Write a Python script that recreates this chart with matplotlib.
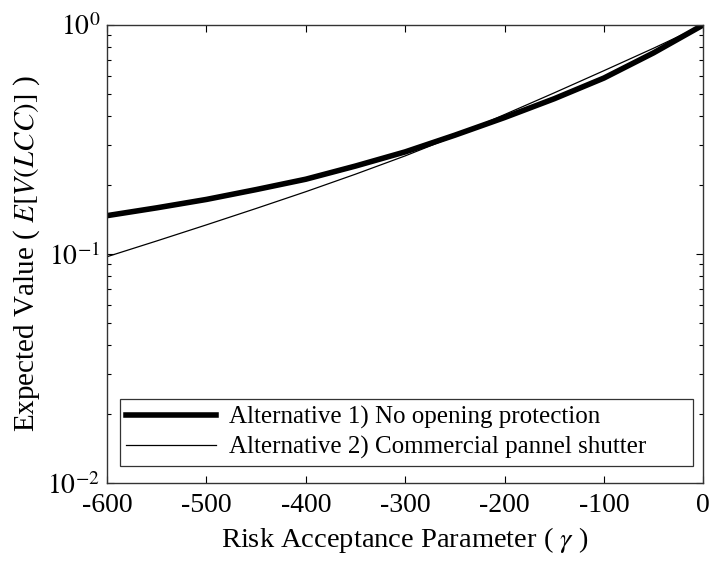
import numpy as np
import matplotlib
matplotlib.use("Agg")
import matplotlib.pyplot as plt

plt.rcParams['font.family'] = ['Liberation Serif', 'DejaVu Serif']
plt.rcParams['mathtext.fontset'] = 'stix'

# risk acceptance parameter (gamma)
gamma = [-600, -550, -500, -450, -400, -350, -300, -250, -200, -150, -100, -50, 0]
# expected value E[V(LCC)]
alt1 = [0.147, 0.159, 0.173, 0.191, 0.212, 0.242, 0.279, 0.330, 0.394, 0.476, 0.586, 0.755, 1.0]
alt2 = [0.0973, 0.114, 0.134, 0.158, 0.187, 0.223, 0.268, 0.327, 0.406, 0.505, 0.631, 0.791, 1.0]
labels = ['Alternative 1) No opening protection',
          'Alternative 2) Commercial pannel shutter']
yticks = [1e-2, 1e-1, 1e0]
yticklabels = [r'$10^{-2}$', r'$10^{-1}$', r'$10^{0}$']

fig = plt.figure(figsize=(7.14, 5.65), dpi=100)
ax = fig.add_axes([0.150, 0.145, 0.835, 0.811])

ax.plot(gamma, alt1, color='black', lw=4.0, label=labels[0])
ax.plot(gamma, alt2, color='black', lw=0.9, label=labels[1])

ax.set_yscale('log')
ax.set_xlim(-600, 0)
ax.set_ylim(1e-2, 1e0)
ax.set_xticks(np.arange(-600, 1, 100))
ax.set_xticklabels([str(v) for v in range(-600, 1, 100)])
ax.set_yticks(yticks)
ax.set_yticklabels(yticklabels, fontsize=21)

ax.tick_params(which='both', direction='in', top=True, right=True, labelsize=20)
ax.tick_params(which='major', length=5, width=0.8)
ax.tick_params(which='minor', length=3, width=0.8)
ax.tick_params(axis='x', pad=7)
ax.tick_params(axis='y', pad=5)
for s in ax.spines.values():
    s.set_linewidth(1.0)
    s.set_color('#333333')

ax.set_xlabel(r'Risk Acceptance Parameter ( $\gamma$ )', fontsize=20.5, labelpad=5)
ax.set_ylabel(r'Expected Value ( $\mathit{E[V(LCC)]}$ )', fontsize=21, labelpad=4)

leg = ax.legend(loc='lower left', bbox_to_anchor=(0.022, 0.038, 0.96, 0.16),
                mode='expand', fontsize=18, frameon=True, fancybox=False,
                handlelength=3.6, handletextpad=0.5, borderpad=0.25,
                labelspacing=0.3, borderaxespad=0)
leg.get_frame().set_edgecolor('black')
leg.get_frame().set_linewidth(0.9)

fig.savefig('out.png', dpi=100)
